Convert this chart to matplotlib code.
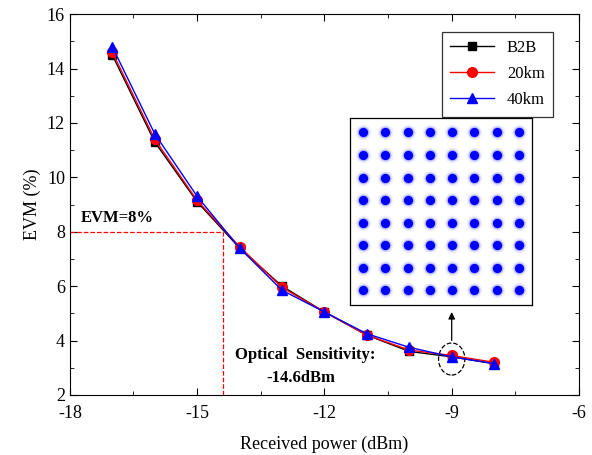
import numpy as np
import matplotlib
matplotlib.use('Agg')
import matplotlib.pyplot as plt
from matplotlib.patches import Ellipse
from matplotlib.ticker import MultipleLocator

plt.rcParams['font.family'] = ['Liberation Serif', 'DejaVu Serif']
plt.rcParams['axes.unicode_minus'] = False

# received power (dBm) and EVM (%) for each link
power = [-17, -16, -15, -14, -13, -12, -11, -10, -9, -8]
evm_b2b = [14.5, 11.3, 9.1, 7.4, 6.0, 5.05, 4.2, 3.6, 3.4, 3.15]
evm_20km = [14.6, 11.4, 9.15, 7.45, 5.95, 5.05, 4.2, 3.65, 3.45, 3.2]
evm_40km = [14.8, 11.6, 9.3, 7.4, 5.85, 5.05, 4.25, 3.75, 3.4, 3.15]

# 64-QAM constellation levels for the inset
qam_levels = [-7, -5, -3, -1, 1, 3, 5, 7]

evm_limit = 8
sens_power = -14.4

fig = plt.figure(figsize=(5.92, 4.55), dpi=100)
ax = fig.add_axes([0.118, 0.132, 0.860, 0.837])

ax.plot(power, evm_b2b, color='black', marker='s', ms=6, lw=1, label='B2B')
ax.plot(power, evm_20km, color='red', marker='o', ms=7, lw=1, label='20km')
ax.plot(power, evm_40km, color='blue', marker='^', ms=7, lw=1, label='40km')

# sensitivity guide lines
ax.plot([-18, sens_power], [evm_limit, evm_limit], color='red', ls='--', lw=0.9)
ax.plot([sens_power, sens_power], [2, evm_limit], color='red', ls='--', lw=0.9)

ax.text(-17.75, 8.35, 'EVM=8%', fontsize=12, fontweight='bold')
ax.text(-12.45, 3.47, 'Optical  Sensitivity:', fontsize=12, fontweight='bold',
        ha='center', va='center')
ax.text(-12.55, 2.62, '-14.6dBm', fontsize=12, fontweight='bold',
        ha='center', va='center')

ax.add_patch(Ellipse((-9, 3.32), 0.62, 1.18, fill=False, ls='--', lw=0.9, color='black'))
ax.annotate('', xy=(-9, 5.15), xytext=(-9, 3.9),
            arrowprops=dict(arrowstyle='-|>', color='black', lw=0.9, mutation_scale=10))

ax.set_xlim(-18, -6)
ax.set_ylim(2, 16)
ax.set_xticks([-18, -15, -12, -9, -6])
ax.xaxis.set_minor_locator(MultipleLocator(1.5))
ax.yaxis.set_major_locator(MultipleLocator(2))
ax.yaxis.set_minor_locator(MultipleLocator(1))
ax.tick_params(which='both', direction='in', top=True, right=True, labelsize=13)
ax.tick_params(which='major', length=5)
ax.tick_params(which='minor', length=3)
ax.tick_params(axis='x', pad=7)
ax.set_xlabel('Received power (dBm)', fontsize=13, labelpad=10)
ax.set_ylabel('EVM (%)', fontsize=13)

leg = ax.legend(loc='upper right', bbox_to_anchor=(0.966, 0.975), fontsize=12,
                fancybox=False, edgecolor='black', handlelength=2.6, borderpad=0.5,
                labelspacing=0.6)
leg.get_frame().set_linewidth(0.9)

# constellation inset
ins = fig.add_axes([0.591, 0.330, 0.308, 0.411])
gi, gq = np.meshgrid(qam_levels, qam_levels)
gi = gi.ravel()
gq = gq.ravel()
ins.scatter(gi, gq, s=130, color='blue', alpha=0.06, lw=0)
ins.scatter(gi, gq, s=75, color='blue', alpha=0.2, lw=0)
ins.scatter(gi, gq, s=45, color='blue', alpha=1.0, lw=0)
ins.set_xlim(-8.2, 8.2)
ins.set_ylim(-8.3, 8.3)
ins.set_xticks([])
ins.set_yticks([])
for sp in ins.spines.values():
    sp.set_linewidth(0.9)

fig.savefig('out.png', dpi=100)
